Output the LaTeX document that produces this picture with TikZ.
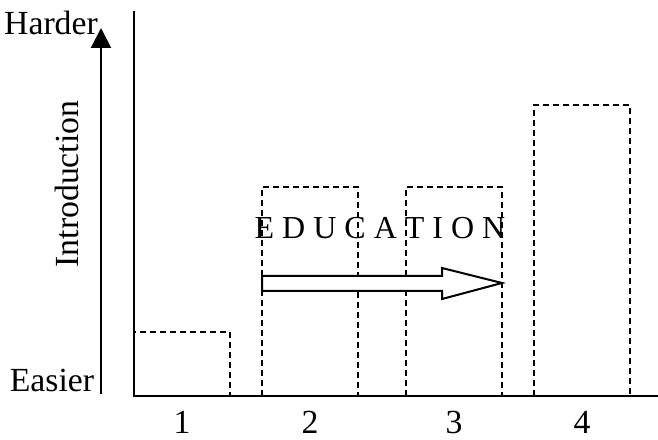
\documentclass[tikz,border=0pt]{standalone}
\usepackage{fontspec}
\setmainfont{Liberation Serif}
\usepackage{tikz}
\usetikzlibrary{arrows.meta, positioning, calc}

\tikzset{
  bar/.style={line width=0.9pt, dash pattern=on 2.4pt off 1.6pt},
  lbl/.style={font=\fontsize{13.5}{16}\selectfont, inner sep=0pt},
}

\begin{document}
\begin{tikzpicture}[x=0.4pt, y=0.4pt]
\useasboundingbox (0,0) rectangle (658,439);

% Axes
\draw[line width=0.8pt] (134,428) -- (134,43) -- (658,43);
\coordinate (lo) at (101,45);
\coordinate (hi) at (101,411);
\draw[line width=0.8pt, -{Triangle[length=8pt, width=8pt]}] (lo) -- (hi);

% Axis labels
\node[lbl] (harder) at (51,416) {Harder};
\node[lbl] (easier) at (52,59) {Easier};
\node[lbl, rotate=90] (intro) at (67,255) {Introduction};

% Bars
\draw[bar] (134,43) rectangle (230,107);
\draw[bar] (262,43) rectangle (358,252);
\draw[bar] (406,43) rectangle (502,252);
\draw[bar] (534,43) rectangle (630,334);

% Bar numbers
\node[lbl] (n1) at (182,17) {1};
\node[lbl] (n2) at (310,17) {2};
\node[lbl] (n3) at (454,17) {3};
\node[lbl] (n4) at (582,17) {4};

% Education arrow
\node[lbl, font=\fontsize{12.8}{15}\selectfont] (edu) at (380,211) {E D U C A T I O N};
\draw[line width=0.8pt, fill=white] (262,148) -- (442,148) -- (442,140) -- (502,156)
  -- (442,171) -- (442,163) -- (262,163) -- cycle;
\end{tikzpicture}
\end{document}
